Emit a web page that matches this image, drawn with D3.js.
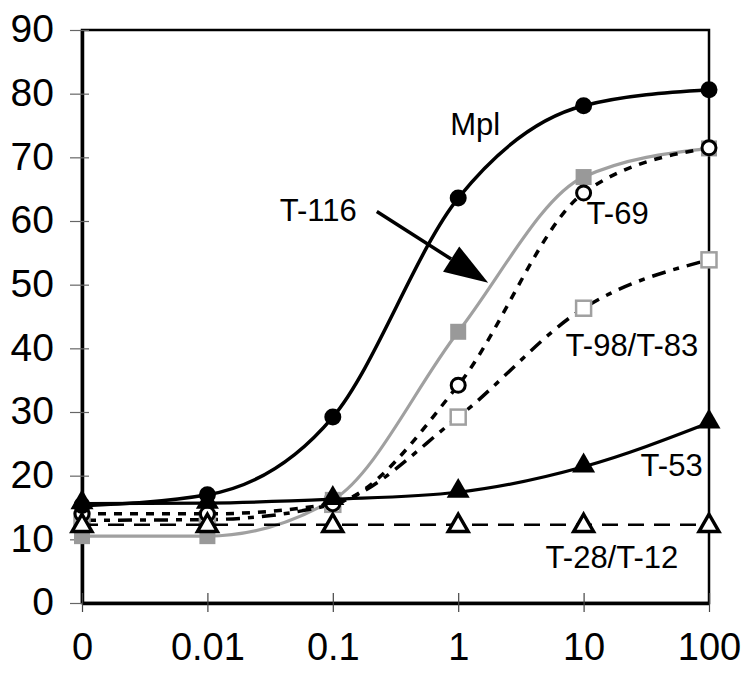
<!DOCTYPE html>
<html>
<head>
<meta charset="utf-8">
<script src="https://cdn.jsdelivr.net/npm/d3@7"></script>
<style>
  body { margin: 0; background: #fff; }
  text { font-family: "Liberation Sans", Arial, sans-serif; }
</style>
</head>
<body>
<div id="chart"></div>
<script>
var width = 747;
var height = 678;

// data
var doses = ["0", "0.01", "0.1", "1", "10", "100"];
var yTicks = [0, 10, 20, 30, 40, 50, 60, 70, 80, 90];

var mpl    = [15.3, 17.0, 29.2, 63.6, 78.1, 80.6];
var t116   = [10.5, 10.5, 16.2, 42.6, 66.9, 71.4];
var t69    = [14.0, 14.0, 15.6, 34.2, 64.4, 71.5];
var t98    = [13.0, 13.1, 15.5, 29.2, 46.3, 53.9];
var t53    = [15.6, 15.7, 16.3, 17.4, 21.4, 28.3];
var t28    = [12.3, 12.3, 12.3, 12.3, 12.3, 12.3];

var labels = [
    { text: "Mpl",        dose: "1",   v: 73.5, dx: -8 },
    { text: "T-116",      dose: "0.1", v: 60.0, dx: -53 },
    { text: "T-69",       dose: "10",  v: 59.5, dx: 3 },
    { text: "T-98/T-83",  dose: "10",  v: 38.8, dx: -18 },
    { text: "T-53",       dose: "10",  v: 20.0, dx: 57 },
    { text: "T-28/T-12",  dose: "10",  v: 5.5,  dx: -38 }
];

var x = d3.scalePoint().domain(doses).range([82, 709]);
var y = d3.scaleLinear().domain([0, 90]).range([603, 30]);

var svg = d3.select("#chart")
    .append("svg")
    .attr("width", width)
    .attr("height", height);

// frame
svg.append("rect")
    .attr("x", x("0")).attr("y", y(90))
    .attr("width", x("100") - x("0")).attr("height", y(0) - y(90))
    .attr("fill", "none").attr("stroke", "#000").attr("stroke-width", 2.5);

// y axis
var yAxis = d3.axisLeft(y).tickValues(yTicks).tickSize(0).tickPadding(28);
var gy = svg.append("g").attr("transform", "translate(" + x("0") + ",0)").call(yAxis);
gy.select(".domain").attr("stroke-width", 3.5);
gy.selectAll("text").attr("font-size", 39).attr("fill", "#000").attr("dy", "0.3em");
gy.selectAll(".tick").append("line")
    .attr("x1", -12).attr("x2", 7)
    .attr("stroke", "#666").attr("stroke-width", 1.2);

// x axis
var xAxis = d3.axisBottom(x).tickSize(0).tickPadding(30);
var gx = svg.append("g").attr("transform", "translate(0," + y(0) + ")").call(xAxis);
gx.select(".domain").attr("stroke-width", 3.5);
gx.selectAll("text").attr("font-size", 38).attr("fill", "#000");
gx.selectAll(".tick").append("line")
    .attr("y1", -10).attr("y2", 9)
    .attr("stroke", "#444").attr("stroke-width", 1.2);

var line = d3.line()
    .x(function(d, i){ return x(doses[i]); })
    .y(function(d){ return y(d); })
    .curve(d3.curveMonotoneX);

var series = [
    { vals: t116, stroke: "#a0a0a0", w: 3.2, dash: null, marker: "sqFill" },
    { vals: t98,  stroke: "#000", w: 3.5, dash: "14,8,6,8", marker: "sqOpen" },
    { vals: t69,  stroke: "#000", w: 3.5, dash: "8,8", marker: "cirOpen" },
    { vals: t28,  stroke: "#000", w: 2.5, dash: "16,10", marker: "triOpen" },
    { vals: t53,  stroke: "#000", w: 3.2, dash: null, marker: "triFill" },
    { vals: mpl,  stroke: "#000", w: 3.5, dash: null, marker: "cirFill" }
];

var tri = d3.symbol().type(d3.symbolTriangle);

series.forEach(function(s){
    svg.append("path")
        .datum(s.vals)
        .attr("d", line)
        .attr("fill", "none")
        .attr("stroke", s.stroke)
        .attr("stroke-width", s.w)
        .attr("stroke-dasharray", s.dash);

    var g = svg.append("g");
    var pts = g.selectAll("g").data(s.vals).enter().append("g")
        .attr("transform", function(d, i){ return "translate(" + x(doses[i]) + "," + y(d) + ")"; });

    if (s.marker === "cirFill") {
        pts.append("circle").attr("r", 8.5).attr("fill", "#000");
    } else if (s.marker === "cirOpen") {
        pts.append("circle").attr("r", 7).attr("fill", "#fff")
            .attr("stroke", "#000").attr("stroke-width", 3);
    } else if (s.marker === "sqFill") {
        pts.append("rect").attr("x", -8).attr("y", -8).attr("width", 16).attr("height", 16)
            .attr("fill", "#999");
    } else if (s.marker === "sqOpen") {
        pts.append("rect").attr("x", -7.5).attr("y", -7.5).attr("width", 15).attr("height", 15)
            .attr("fill", "#fff").attr("stroke", "#a0a0a0").attr("stroke-width", 2.5);
    } else if (s.marker === "triFill") {
        pts.append("path").attr("d", tri.size(230)).attr("fill", "#000")
            .attr("transform", "translate(0,-1)");
    } else if (s.marker === "triOpen") {
        pts.append("path").attr("d", tri.size(170)).attr("fill", "#fff")
            .attr("stroke", "#000").attr("stroke-width", 3.5)
            .attr("transform", "translate(0,1)");
    }
});

// labels
svg.append("g").selectAll("text")
    .data(labels).enter().append("text")
    .attr("x", function(d){ return x(d.dose) + d.dx; })
    .attr("y", function(d){ return y(d.v); })
    .attr("font-size", 31)
    .attr("fill", "#000")
    .text(function(d){ return d.text; });

// arrow T-116 -> its curve
var ax1 = x("0.1") + 44, ay1 = y(61.5);
var ax2 = x("1") + 30,   ay2 = y(50.3);
var ang = Math.atan2(ay2 - ay1, ax2 - ax1);
var headLen = 44, headW = 15;
var bx = ax2 - headLen * Math.cos(ang), by = ay2 - headLen * Math.sin(ang);
svg.append("line")
    .attr("x1", ax1).attr("y1", ay1).attr("x2", bx).attr("y2", by)
    .attr("stroke", "#000").attr("stroke-width", 3.5);
svg.append("path")
    .attr("d", "M" + ax2 + "," + ay2 +
        "L" + (bx + headW * Math.sin(ang)) + "," + (by - headW * Math.cos(ang)) +
        "L" + (bx - headW * Math.sin(ang)) + "," + (by + headW * Math.cos(ang)) + "Z")
    .attr("fill", "#000");
</script>
</body>
</html>
